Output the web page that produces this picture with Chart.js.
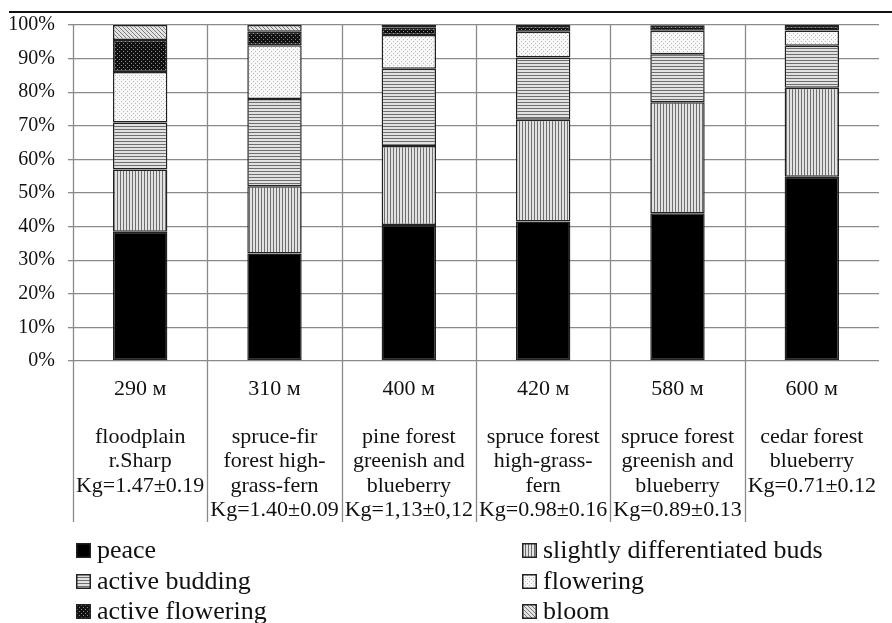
<!DOCTYPE html>
<html>
<head>
<meta charset="utf-8">
<script src="https://cdn.jsdelivr.net/npm/chart.js@4.4.0/dist/chart.umd.min.js"></script>
<style>
  html,body{margin:0;padding:0;background:#fff;}
  #wrap{position:relative;width:892px;height:623px;overflow:hidden;}
  #topline{position:absolute;left:9px;right:0;top:11px;border-top:2px solid #111;}
  #legend{position:absolute;left:0;top:0;width:892px;height:623px;pointer-events:none;
    font-family:'Liberation Serif','Times New Roman',serif;font-size:26px;color:#111;}
  .item{position:absolute;display:flex;align-items:center;height:30px;white-space:nowrap;}
  .item canvas{width:15px;height:15px;margin-right:6px;box-sizing:border-box;}
</style>
</head>
<body>
<div id="wrap">
  <canvas id="c" width="892" height="623"></canvas>
  <div id="topline"></div>
  <div id="legend"></div>
</div>
<script>
// ---- data ----
const altitudes = ["290 м", "310 м", "400 м", "420 м", "580 м", "600 м"];
const habitats = [
  ["floodplain", "r.Sharp"],
  ["spruce-fir", "forest high-", "grass-fern"],
  ["pine forest", "greenish and", "blueberry"],
  ["spruce forest", "high-grass-", "fern"],
  ["spruce forest", "greenish and", "blueberry"],
  ["cedar forest", "blueberry"]
];
const kgValues = ["Kg=1.47±0.19", "Kg=1.40±0.09", "Kg=1,13±0,12", "Kg=0.98±0.16", "Kg=0.89±0.13", "Kg=0.71±0.12"];
const seriesNames = ["peace", "slightly differentiated buds", "active budding", "flowering", "active flowering", "bloom"];
const peace = [38.5, 32, 40.5, 41.5, 44, 54.8];
const slightlyDifferentiatedBuds = [18.5, 20, 23.5, 30.3, 33, 26.5];
const activeBudding = [14, 26, 23, 18.5, 14.3, 12.5];
const flowering = [15, 16, 10, 7.7, 7, 4.6];
const activeFlowering = [9.5, 4, 2.2, 1.7, 1.5, 1.3];
const bloom = [4.5, 2, 0.8, 0.3, 0.2, 0.3];
const yTicks = [0, 10, 20, 30, 40, 50, 60, 70, 80, 90, 100];

// ---- patterns ----
function drawTile(kind) {
  const s = kind === 'vert' || kind === 'horiz' ? 3 : 4;
  const cv = document.createElement('canvas');
  cv.width = s; cv.height = s;
  const g = cv.getContext('2d');
  if (kind === 'solid') { g.fillStyle = '#000'; g.fillRect(0,0,s,s); }
  else if (kind === 'vert') { g.fillStyle = '#e2e2e2'; g.fillRect(0,0,s,s); g.fillStyle = '#6e6e6e'; g.fillRect(0,0,1,s); }
  else if (kind === 'horiz') { g.fillStyle = '#e2e2e2'; g.fillRect(0,0,s,s); g.fillStyle = '#6e6e6e'; g.fillRect(0,0,s,1); }
  else if (kind === 'dots') { g.fillStyle = '#f7f7f7'; g.fillRect(0,0,s,s); g.fillStyle = '#bdbdbd'; g.fillRect(1,1,1,1); g.fillRect(3,3,1,1); }
  else if (kind === 'darkdots') { g.fillStyle = '#111'; g.fillRect(0,0,s,s); g.fillStyle = '#8a8a8a'; g.fillRect(1,1,1,1); g.fillRect(3,3,1,1); }
  else if (kind === 'diag') { g.fillStyle = '#e4e4e4'; g.fillRect(0,0,s,s); g.fillStyle = '#7a7a7a'; for (let i=0;i<s;i++) g.fillRect(i,i,1,1); }
  return cv;
}
const kinds = ['solid', 'vert', 'horiz', 'dots', 'darkdots', 'diag'];
const ctx = document.getElementById('c').getContext('2d');
const patterns = kinds.map(k => ctx.createPattern(drawTile(k), 'repeat'));

const seriesValues = [peace, slightlyDifferentiatedBuds, activeBudding, flowering, activeFlowering, bloom];
const labels = altitudes.map((a, i) => [a, ""].concat(habitats[i], [kgValues[i]]));

const datasets = seriesNames.map((name, i) => ({
  label: name,
  data: seriesValues[i],
  backgroundColor: patterns[i],
  borderColor: '#222',
  borderWidth: 1.5,
  borderSkipped: false,
  categoryPercentage: 1,
  barPercentage: 0.405
}));

const separators = {
  id: 'separators',
  afterDraw(chart) {
    const xs = chart.scales.x, area = chart.chartArea, c = chart.ctx;
    c.save();
    c.strokeStyle = '#8a8a8a';
    c.lineWidth = 1.3;
    for (let i = 0; i < altitudes.length; i++) {
      const x = Math.round(xs.getPixelForValue(i - 0.5)) + 0.5;
      c.beginPath();
      c.moveTo(x, area.top);
      c.lineTo(x, area.bottom + 161);
      c.stroke();
    }
    c.restore();
  }
};

new Chart(ctx, {
  type: 'bar',
  data: { labels, datasets },
  options: {
    responsive: false,
    animation: false,
    layout: { padding: { left: 0, right: 0, top: 24, bottom: 96 } },
    plugins: { legend: { display: false }, tooltip: { enabled: false } },
    scales: {
      x: {
        stacked: true,
        grid: { display: false, drawTicks: false },
        border: { display: false },
        afterFit(s) { s.height = 166; },
        ticks: {
          autoSkip: false, maxRotation: 0, minRotation: 0, padding: 16,
          color: '#111',
          font: { family: "'Liberation Serif', 'Times New Roman', serif", size: 22, lineHeight: 1.1 }
        }
      },
      y: {
        stacked: true,
        min: 0, max: 100,
        afterFit(s) { s.width = 73; },
        afterBuildTicks(s) { s.ticks = yTicks.map(v => ({ value: v })); },
        grid: { color: '#8a8a8a', lineWidth: 1.3, tickLength: 5 },
        border: { display: false },
        ticks: {
          padding: 13, color: '#111',
          font: { family: "'Liberation Serif', 'Times New Roman', serif", size: 20 },
          callback: v => v + '%'
        }
      }
    }
  },
  plugins: [separators]
});

// ---- HTML legend in two columns ----
const legendEl = document.getElementById('legend');
const colX = [76, 522];
const rowY = [535, 566, 596];
seriesNames.forEach((name, i) => {
  const item = document.createElement('div');
  item.className = 'item';
  item.style.left = colX[i % 2] + 'px';
  item.style.top = rowY[Math.floor(i / 2)] + 'px';
  const sw = document.createElement('canvas');
  sw.width = 15; sw.height = 15;
  const g = sw.getContext('2d');
  g.fillStyle = g.createPattern(drawTile(kinds[i]), 'repeat');
  g.fillRect(0, 0, 15, 15);
  g.strokeStyle = '#222'; g.lineWidth = 1.5; g.strokeRect(0.75, 0.75, 13.5, 13.5);
  const t = document.createElement('span');
  t.textContent = name;
  item.appendChild(sw); item.appendChild(t);
  legendEl.appendChild(item);
});
</script>
</body>
</html>
